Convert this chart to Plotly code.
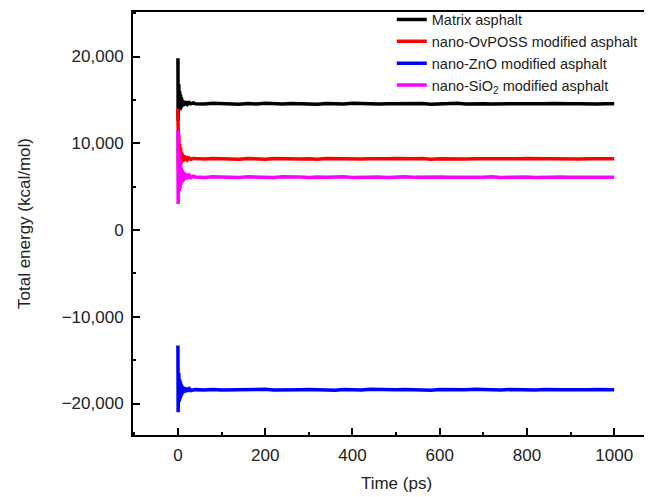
import plotly.graph_objects as go

# ---- data ----
series_names = [
    "Matrix asphalt",
    "nano-OvPOSS modified asphalt",
    "nano-ZnO modified asphalt",
    "nano-SiO<sub>2</sub> modified asphalt",
]
series_colors = ["#000000", "#ff0000", "#0000ff", "#ff00ff"]

# early equilibration part (ps)
t_early = [0, 0.5, 1, 1.5, 2, 3, 4, 5, 6, 7, 8, 9, 10, 12, 14, 16, 19, 22, 26, 30, 35]

black_early = [19800, 12600, 18200, 13500, 16800, 14000, 16000, 13800, 15600, 14000, 15300,
               14200, 15000, 14300, 14900, 14400, 14800, 14500, 14700, 14550, 14650]
red_early = [14000, 9000, 12500, 7000, 11000, 7500, 9900, 7300, 9500, 7600, 9000,
             7800, 8800, 7900, 8600, 8000, 8500, 8100, 8300, 8150, 8250]
blue_early = [-13300, -21000, -15000, -20500, -16500, -19800, -17200, -19500, -17500, -19200, -17800,
              -19000, -18000, -18800, -18100, -18700, -18200, -18600, -18300, -18500, -18400]
magenta_early = [11500, 3000, 10500, 3500, 9000, 4500, 8000, 4800, 7500, 5200, 7200,
                 5400, 6900, 5600, 6700, 5800, 6500, 5900, 6300, 6050, 6200]

# steady part, one value every 20 ps from 40 to 1000 ps
black_steady = [
    14560, 14520, 14600, 14540, 14580, 14500, 14570,
    14530, 14610, 14550, 14520, 14590, 14540, 14560,
    14510, 14580, 14550, 14530, 14600, 14540, 14570,
    14520, 14560, 14590, 14530, 14550, 14580, 14510,
    14560, 14540, 14600, 14530, 14570, 14550, 14520,
    14580, 14540, 14560, 14590, 14530, 14550, 14570,
    14520, 14560, 14540, 14580, 14530, 14560, 14550]
red_steady = [
    8230, 8180, 8250, 8190, 8220, 8160, 8240,
    8200, 8170, 8230, 8190, 8250, 8180, 8210,
    8160, 8230, 8200, 8180, 8240, 8190, 8220,
    8170, 8210, 8250, 8190, 8200, 8230, 8160,
    8220, 8190, 8240, 8180, 8210, 8200, 8170,
    8230, 8190, 8220, 8250, 8180, 8200, 8210,
    8170, 8230, 8190, 8220, 8200, 8180, 8210]
blue_steady = [
    -18400, -18450, -18380, -18430, -18410, -18460, -18390,
    -18420, -18370, -18440, -18400, -18450, -18410, -18380,
    -18430, -18400, -18460, -18390, -18420, -18440, -18370,
    -18410, -18450, -18400, -18380, -18430, -18410, -18460,
    -18390, -18420, -18440, -18400, -18370, -18430, -18410,
    -18450, -18390, -18420, -18400, -18440, -18380, -18430,
    -18410, -18400, -18450, -18420, -18390, -18430, -18410]
magenta_steady = [
    6120, 6060, 6140, 6080, 6100, 6040, 6130,
    6070, 6110, 6050, 6150, 6080, 6100, 6060,
    6120, 6070, 6090, 6140, 6050, 6100, 6080,
    6110, 6040, 6090, 6130, 6070, 6100, 6060,
    6120, 6080, 6050, 6110, 6090, 6070, 6130,
    6060, 6100, 6080, 6120, 6050, 6090, 6070,
    6110, 6080, 6060, 6100, 6090, 6070, 6080]

t_steady = [40 + 20 * i for i in range(len(black_steady))]

x_ticks = [0, 200, 400, 600, 800, 1000]
y_ticks = [-20000, -10000, 0, 10000, 20000]

# ---- figure ----
font_family = "Arial, Liberation Sans, sans-serif"
time = t_early + t_steady
all_values = [
    black_early + black_steady,
    red_early + red_steady,
    blue_early + blue_steady,
    magenta_early + magenta_steady,
]

fig = go.Figure()
for name, color, vals in zip(series_names, series_colors, all_values):
    fig.add_trace(go.Scatter(x=time, y=vals, mode="lines", name=name,
                             line=dict(color=color, width=3.5)))

axis_common = dict(
    showline=True, linecolor="black", linewidth=2,
    ticks="inside", ticklen=7, tickwidth=2, tickcolor="black",
    showgrid=False, zeroline=False, automargin=False,
    tickfont=dict(family=font_family, size=17, color="#222"),
)

fig.update_xaxes(
    range=[-103, 1105], tickvals=x_ticks, mirror=True,
    minor=dict(ticks="inside", ticklen=3, tickwidth=2, tickcolor="black", dtick=100, tick0=0),
    ticklabelstandoff=4,
    title=dict(text="Time (ps)", font=dict(family=font_family, size=17, color="#222"), standoff=13),
    **axis_common,
)
fig.update_yaxes(
    range=[-23630, 25130], tickvals=y_ticks, tickformat=",", mirror=False,
    minor=dict(ticks="inside", ticklen=3, tickwidth=2, tickcolor="black", dtick=5000, tick0=0),
    ticklabelstandoff=4,
    title=dict(text="Total energy (kcal/mol)", font=dict(family=font_family, size=17, color="#222"), standoff=27),
    **axis_common,
)

fig.update_layout(
    width=652, height=497,
    margin=dict(l=125, r=0, t=4, b=70, autoexpand=False),
    plot_bgcolor="white", paper_bgcolor="white",
    showlegend=True,
    legend=dict(x=0.491, y=1.02, xanchor="left", yanchor="top",
                bgcolor="rgba(0,0,0,0)", borderwidth=0,
                font=dict(family=font_family, size=14.5, color="#222"),
                tracegroupgap=0, itemwidth=30),
)

fig.write_html("out.html")
